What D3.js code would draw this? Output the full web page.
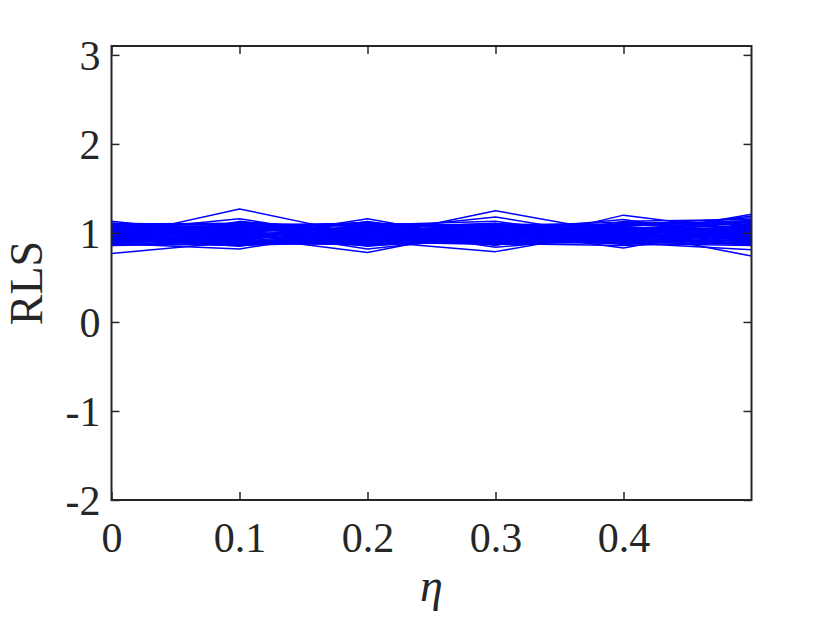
<!DOCTYPE html>
<html>
<head>
<meta charset="utf-8">
<script src="https://cdn.jsdelivr.net/npm/d3@7"></script>
<style>
  html, body { margin: 0; padding: 0; background: #fff; }
  svg { display: block; }
  text { font-family: "Liberation Serif", "Times New Roman", serif; fill: #262626; }
</style>
</head>
<body>
<svg id="chart" width="830" height="623"></svg>
<script>
// ---- data ----
const etaValues = [0, 0.1, 0.2, 0.3, 0.4, 0.5];
const xTickValues = [0, 0.1, 0.2, 0.3, 0.4];
const xTickLabels = ["0", "0.1", "0.2", "0.3", "0.4"];
const yTickValues = [-2, -1, 0, 1, 2, 3];
const yTickLabels = ["-2", "-1", "0", "1", "2", "3"];
const xLabel = "η";
const yLabel = "RLS";
// RLS value of each run at each η
const rlsRuns = [
  [1.13, 0.98, 1.02, 0.95, 1.05, 0.99],
  [0.77, 0.90, 0.97, 1.03, 0.93, 1.08],
  [0.95, 1.27, 0.97, 1.01, 0.96, 1.04],
  [1.02, 1.16, 0.93, 0.98, 1.07, 0.90],
  [0.88, 0.82, 1.05, 0.94, 1.00, 1.12],
  [1.05, 0.96, 0.78, 1.06, 0.91, 0.97],
  [0.92, 1.04, 0.82, 0.97, 1.10, 1.01],
  [1.08, 0.93, 1.16, 0.90, 0.98, 0.95],
  [0.97, 1.09, 0.95, 1.25, 0.99, 0.93],
  [1.01, 0.88, 1.03, 1.18, 0.94, 1.06],
  [0.90, 1.01, 0.91, 0.79, 1.04, 0.99],
  [1.10, 0.95, 1.08, 0.86, 1.20, 1.02],
  [0.94, 1.12, 0.99, 1.02, 0.83, 1.09],
  [1.04, 0.99, 0.87, 1.09, 0.96, 1.21],
  [0.99, 0.91, 1.10, 0.96, 1.02, 0.74],
  [0.86, 1.06, 0.94, 1.04, 0.89, 0.81],
  [1.11, 1.02, 0.98, 0.92, 1.13, 1.15],
  [0.91, 0.94, 1.06, 1.11, 0.97, 0.88],
  [1.06, 1.08, 0.90, 0.99, 1.06, 1.03],
  [0.96, 0.86, 1.01, 0.87, 0.92, 1.10],
  [1.00, 1.05, 1.12, 0.95, 1.01, 0.92],
  [0.89, 0.97, 0.89, 1.07, 1.09, 1.17],
  [1.07, 0.90, 1.04, 1.00, 0.87, 0.96],
  [0.93, 1.10, 0.96, 0.91, 1.03, 1.13],
  [1.03, 0.92, 1.09, 1.13, 0.95, 0.87],
  [0.98, 1.03, 0.85, 0.97, 1.11, 1.05],
  [0.87, 0.99, 1.02, 1.05, 0.90, 0.98],
  [1.09, 1.07, 0.97, 0.89, 1.00, 1.19],
  [0.95, 0.85, 1.07, 1.02, 1.15, 0.94],
  [1.02, 1.00, 0.92, 0.94, 0.98, 1.07],
  [0.91, 1.11, 1.00, 1.08, 0.93, 1.00],
  [1.05, 0.94, 1.13, 0.93, 1.05, 0.91],
  [0.97, 0.89, 0.93, 1.00, 1.08, 1.14],
  [1.00, 1.04, 1.05, 0.84, 0.96, 1.04],
  [0.94, 0.97, 0.99, 1.10, 1.02, 0.89],
  [1.06, 1.01, 0.88, 0.98, 0.91, 1.11],
  [0.90, 1.13, 1.01, 1.03, 1.07, 0.97],
  [1.04, 0.87, 0.95, 0.96, 0.99, 1.08],
  [0.99, 1.06, 1.11, 1.06, 0.94, 1.01],
  [0.93, 0.95, 1.03, 0.92, 1.04, 0.95],
  [0.86, 0.88, 0.87, 0.90, 0.88, 0.86],
  [0.88, 0.86, 0.90, 0.87, 0.91, 0.89],
  [0.90, 0.92, 0.88, 0.91, 0.89, 0.93],
  [0.92, 0.90, 0.93, 0.89, 0.93, 0.91],
  [0.94, 0.96, 0.92, 0.95, 0.97, 0.94],
  [0.96, 0.94, 0.97, 0.93, 0.95, 0.98],
  [0.98, 1.00, 0.96, 0.99, 0.97, 1.00],
  [1.00, 0.97, 1.01, 0.98, 1.02, 0.99],
  [1.02, 1.04, 1.00, 1.03, 1.01, 1.04],
  [1.04, 1.02, 1.05, 1.01, 1.05, 1.03],
  [1.06, 1.08, 1.04, 1.07, 1.05, 1.08],
  [1.08, 1.06, 1.09, 1.05, 1.08, 1.10],
  [1.10, 1.11, 1.07, 1.10, 1.09, 1.12],
  [1.11, 1.09, 1.11, 1.08, 1.12, 1.09],
  [0.87, 0.90, 0.92, 0.88, 0.86, 0.90],
  [0.89, 0.93, 0.86, 0.92, 0.90, 0.87],
  [0.93, 0.89, 0.95, 0.90, 0.94, 0.96],
  [0.97, 0.99, 0.94, 0.97, 1.00, 0.95],
  [1.01, 0.98, 1.03, 1.00, 0.97, 1.02],
  [1.03, 1.05, 0.99, 1.04, 1.03, 1.06],
  [1.07, 1.03, 1.06, 1.09, 1.04, 1.05],
  [1.09, 1.10, 1.08, 1.06, 1.10, 1.13],
  [0.91, 0.87, 0.91, 0.94, 0.92, 0.88],
  [1.05, 1.07, 1.10, 1.04, 1.07, 1.00]
];

// ---- layout ----
const mLeft = 111.5, mRight = 751.5, mTop = 46, mBottom = 500;
const axisColor = "#262626";
const svg = d3.select("#chart");

const x = d3.scaleLinear().domain([0, 0.5]).range([mLeft, mRight]);
const y = d3.scaleLinear().domain([-2, 3.1]).range([mBottom, mTop]);

// lines
const line = d3.line().x((d, i) => x(etaValues[i])).y(d => y(d));
svg.append("g")
  .selectAll("path")
  .data(rlsRuns)
  .join("path")
  .attr("d", line)
  .attr("fill", "none")
  .attr("stroke", "#0000ff")
  .attr("stroke-width", 1.5)
  .attr("stroke-linejoin", "round");

// axes (MATLAB style: inward ticks, box)
const tickLen = 8;
const fontSize = 42;

const xAxisB = d3.axisBottom(x).tickValues(xTickValues).tickSize(-tickLen)
  .tickFormat((d, i) => xTickLabels[i]);
const xAxisT = d3.axisTop(x).tickValues(xTickValues).tickSize(-tickLen).tickFormat("");
const yAxisL = d3.axisLeft(y).tickValues(yTickValues).tickSize(-tickLen)
  .tickFormat((d, i) => yTickLabels[i]);
const yAxisR = d3.axisRight(y).tickValues(yTickValues).tickSize(-tickLen).tickFormat("");

function styleAxis(g) {
  g.selectAll(".domain").remove();
  g.selectAll("line").attr("stroke", axisColor).attr("stroke-width", 1.5);
  g.selectAll("text").attr("font-size", fontSize)
    .attr("font-family", "'Liberation Serif', serif").attr("fill", axisColor);
}

svg.append("g").attr("transform", `translate(0,${mBottom})`).call(xAxisB).call(styleAxis)
  .selectAll("text").attr("y", 22).attr("dy", "0.71em");
svg.append("g").attr("transform", `translate(0,${mTop})`).call(xAxisT).call(styleAxis);
svg.append("g").attr("transform", `translate(${mLeft},0)`).call(yAxisL).call(styleAxis)
  .selectAll("text").attr("x", -11).attr("dy", "0.34em");
svg.append("g").attr("transform", `translate(${mRight},0)`).call(yAxisR).call(styleAxis);

// box
svg.append("rect")
  .attr("x", mLeft).attr("y", mTop)
  .attr("width", mRight - mLeft).attr("height", mBottom - mTop)
  .attr("fill", "none").attr("stroke", axisColor).attr("stroke-width", 2);

// labels
svg.append("text")
  .attr("x", (mLeft + mRight) / 2).attr("y", 601)
  .attr("text-anchor", "middle")
  .attr("font-size", 46).attr("font-style", "italic")
  .text(xLabel);

svg.append("text")
  .attr("transform", `translate(42,283) rotate(-90)`)
  .attr("text-anchor", "middle")
  .attr("font-size", 46)
  .text(yLabel);
</script>
</body>
</html>
